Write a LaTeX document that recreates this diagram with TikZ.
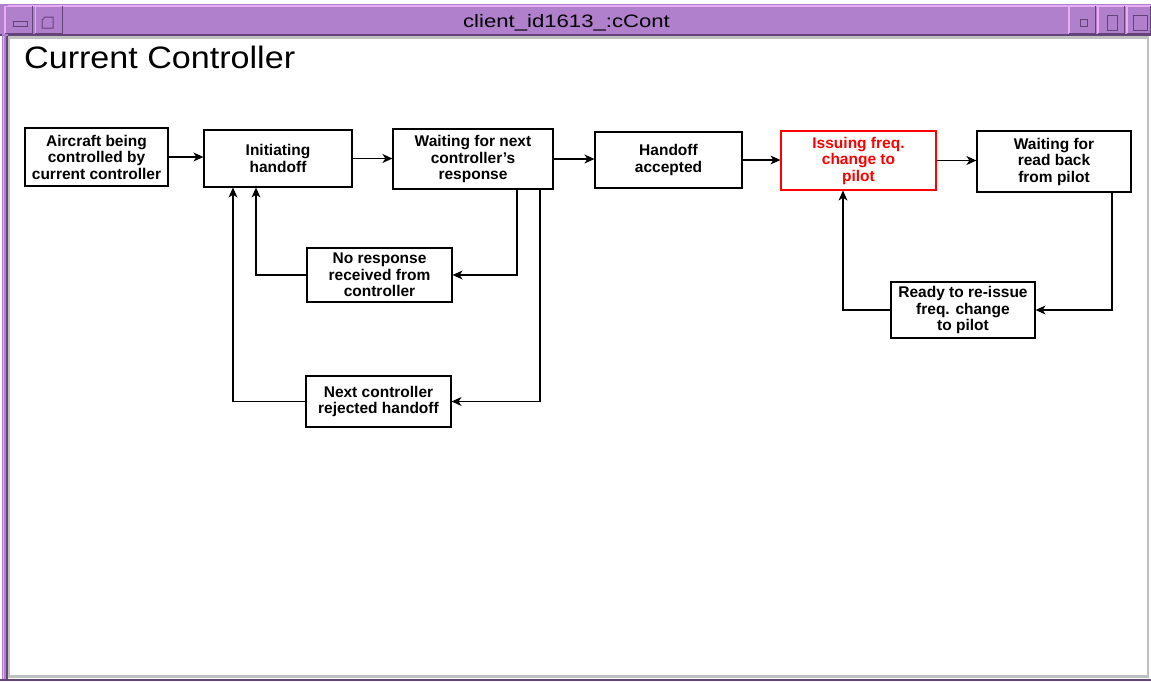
\documentclass[tikz,border=0pt]{standalone}
\usepackage{fontspec}
\setmainfont{Liberation Sans}
\usepackage{graphicx}
\usetikzlibrary{arrows.meta}

\definecolor{wmpurple}{RGB}{176,128,204}
\definecolor{wmlight}{RGB}{234,172,244}
\definecolor{wmdark}{RGB}{100,68,120}
\definecolor{bevelgrey}{RGB}{192,192,192}
\definecolor{alertred}{RGB}{255,0,0}

\begin{document}
\begin{tikzpicture}[x=1pt,y=-1pt,
  statebox/.style={draw=black, line width=1.2pt, fill=white, align=center,
    inner sep=0pt, font=\fontsize{15.5}{16.5}\selectfont\bfseries},
  alertbox/.style={statebox, draw=alertred, text=alertred},
  arr/.style={draw=black, line width=1.2pt,
    -{Stealth[length=10pt,width=9pt,inset=3pt]}},
  wmbutton/.style={fill=wmpurple},
  wmicon/.style={draw=wmdark, line width=1pt, fill=wmpurple}]

\useasboundingbox (0,0) rectangle (1151,681);
\fill[white] (0,0) rectangle (1151,681);

% ---- window frame ----
\fill[wmpurple] (0,4) rectangle (1151,36);
\fill[wmlight] (4,5) rectangle (1151,7);
\fill[wmdark] (0,33.5) rectangle (1151,36);
\fill[wmpurple] (2,4) rectangle (8,681);
\fill[wmlight] (2.5,36) rectangle (4,681);
\fill[wmdark] (5.5,36) rectangle (7.5,681);
\fill[wmdark] (0,679) rectangle (1151,681);
% inner bevel of the client area
\fill[bevelgrey] (7.5,36) rectangle (1149,38.5);
\fill[bevelgrey] (7.5,36) rectangle (10,678);
\fill[bevelgrey] (7.5,675) rectangle (1149,677.5);
\fill[bevelgrey] (1146.5,38.5) rectangle (1149,677.5);

% ---- title bar buttons ----
\foreach \a/\b in {4/33, 34.5/63, 1068/1096, 1097/1125, 1126/1151}{
  \fill[wmbutton] (\a,5.5) rectangle (\b,34);
  \draw[wmlight, line width=1.5pt] (\a+0.75,34) -- (\a+0.75,6.25) -- (\b,6.25);
  \draw[wmdark, line width=1.5pt] (\a+0.75,33.25) -- (\b-0.75,33.25) -- (\b-0.75,5.5);
}
\draw[wmicon] (13,21.5) rectangle (27,26);
\draw[wmicon] (45,17) -- (53,17) -- (53,28) -- (42,28) -- (42,20) -- cycle;
\draw[wmicon] (1080,19) rectangle (1087,26);
\draw[wmicon] (1107,15.5) rectangle (1117,30);
\draw[wmicon] (1133,15.5) rectangle (1147,30);

\node[anchor=base, inner sep=0pt, font=\fontsize{18}{18}\selectfont]
  (wintitle) at (566.5,27) {\scalebox{1.23}[1]{client\_id1613\_:cCont}};

\node[anchor=base west, inner sep=0pt, font=\fontsize{31}{31}\selectfont]
  (heading) at (24,68) {\scalebox{1.1}[1]{Current Controller}};

% ---- states ----
\node[statebox, minimum width=143, minimum height=58] (air) at (96.5,157)
  {Aircraft being\\controlled by\\current controller};
\node[statebox, minimum width=148, minimum height=57] (init) at (278,158.5)
  {Initiating\\handoff};
\node[statebox, minimum width=160, minimum height=60] (wait) at (473,159)
  {Waiting for next\\controller's\\response};
\node[statebox, minimum width=147, minimum height=56] (acc) at (668.5,160)
  {Handoff\\accepted};
\node[alertbox, minimum width=155, minimum height=59] (issue) at (858.5,160.5)
  {Issuing freq.\\change to\\pilot};
\node[statebox, minimum width=154, minimum height=61] (readback) at (1054,161.5)
  {Waiting for\\read back\\from pilot};
\node[statebox, minimum width=144, minimum height=56] (ready) at (963,310)
  {Ready to re-issue\\freq. change\\to pilot};
\node[statebox, minimum width=145, minimum height=54] (nores) at (379.5,275)
  {No response\\received from\\controller};
\node[statebox, minimum width=145, minimum height=51] (reject) at (378.5,401.5)
  {Next controller\\rejected handoff};

% ---- transitions ----
\draw[arr] (air.east) -- (air.east -| init.west);
\draw[arr] (init.east) -- (init.east -| wait.west);
\draw[arr] (wait.east) -- (wait.east -| acc.west);
\draw[arr] (acc.east) -- (acc.east -| issue.west);
\draw[arr] (issue.east) -- (issue.east -| readback.west);

\draw[arr] ([xshift=44pt]wait.south) |- (nores.east);
\draw[arr] ([xshift=67pt]wait.south) |- (reject.east);
\draw[arr] (nores.west) -| ([xshift=-22pt]init.south);
\draw[arr] (reject.west) -| ([xshift=-45pt]init.south);

\draw[arr] ([xshift=58pt]readback.south) |- (ready.east);
\draw[arr] (ready.west) -| ([xshift=-15.5pt]issue.south);

\end{tikzpicture}
\end{document}
